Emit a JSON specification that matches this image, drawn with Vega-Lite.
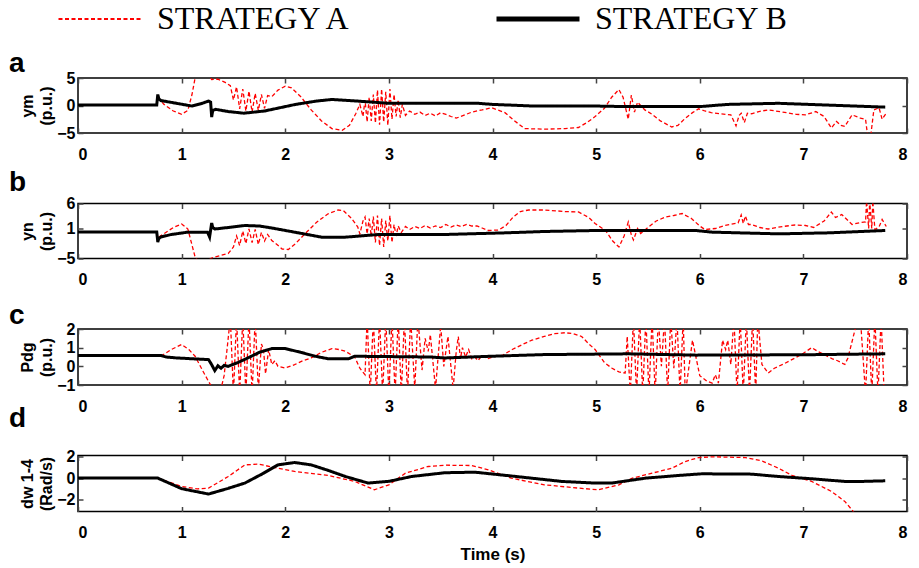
{
"$schema":"https://vega.github.io/schema/vega-lite/v6.json",
"background":"white",
"padding":{"left":8,"top":3,"right":5,"bottom":2},
"config":{
 "view":{"stroke":"black","strokeWidth":1.5},
 "axis":{"domain":false,"grid":false,"labelFont":"Liberation Sans","labelFontWeight":"bold","labelFontSize":16,"labelColor":"black","tickColor":"#444","tickWidth":1.5,"tickSize":-5,"titleFont":"Liberation Sans","titleFontWeight":"bold","titleFontSize":16,"titleColor":"black","titleLineHeight":19},
 "axisX":{"labelPadding":18},
 "axisY":{"labelPadding":8,"titlePadding":2},
 "title":{"font":"Liberation Sans","fontSize":28,"fontWeight":"bold","anchor":"start","frame":"group","dx":-69,"color":"black","offset":0}
},
"datasets":{
"a":[
{"s":"B","t":0,"v":0.1},{"s":"B","t":0.76,"v":0.1},{"s":"B","t":0.77,"v":2.0},{"s":"B","t":0.78,"v":1.2},{"s":"B","t":0.8,"v":0.9},{"s":"B","t":0.95,"v":0.4},{"s":"B","t":1.1,"v":-0.1},{"s":"B","t":1.2,"v":0.4},{"s":"B","t":1.26,"v":0.8},{"s":"B","t":1.28,"v":0.6},{"s":"B","t":1.29,"v":-2.1},{"s":"B","t":1.3,"v":-0.9},{"s":"B","t":1.33,"v":-0.7},{"s":"B","t":1.45,"v":-1.1},{"s":"B","t":1.6,"v":-1.4},{"s":"B","t":1.8,"v":-1.0},{"s":"B","t":2.1,"v":0.2},{"s":"B","t":2.3,"v":0.8},{"s":"B","t":2.45,"v":1.1},{"s":"B","t":2.7,"v":0.8},{"s":"B","t":3.0,"v":0.4},{"s":"B","t":3.86,"v":0.4},{"s":"B","t":4.0,"v":0.2},{"s":"B","t":4.4,"v":-0.1},{"s":"B","t":5.0,"v":-0.1},{"s":"B","t":5.3,"v":-0.2},{"s":"B","t":6.0,"v":-0.2},{"s":"B","t":6.27,"v":0.2},{"s":"B","t":6.76,"v":0.4},{"s":"B","t":7.2,"v":0.1},{"s":"B","t":7.79,"v":-0.3},
{"s":"A","t":0.77,"v":1.5},{"s":"A","t":0.83,"v":0.2},{"s":"A","t":0.92,"v":-1.0},{"s":"A","t":1.0,"v":-1.6},{"s":"A","t":1.06,"v":-0.9},{"s":"A","t":1.1,"v":2.0},{"s":"A","t":1.13,"v":5.0},{"s":"A","t":1.2,"v":7},{"s":"A","t":1.25,"v":6},{"s":"A","t":1.29,"v":4.7},{"s":"A","t":1.35,"v":4.8},{"s":"A","t":1.42,"v":4.2},{"s":"A","t":1.47,"v":3.6},{"s":"A","t":1.5,"v":1.0},{"s":"A","t":1.53,"v":3.4},{"s":"A","t":1.56,"v":-0.6},{"s":"A","t":1.59,"v":3.0},{"s":"A","t":1.62,"v":-1.0},{"s":"A","t":1.65,"v":2.6},{"s":"A","t":1.68,"v":-1.2},{"s":"A","t":1.71,"v":2.2},{"s":"A","t":1.74,"v":-0.9},{"s":"A","t":1.77,"v":2.0},{"s":"A","t":1.8,"v":-0.5},{"s":"A","t":1.83,"v":1.8},{"s":"A","t":1.87,"v":1.6},{"s":"A","t":1.93,"v":2.8},{"s":"A","t":2.0,"v":3.5},{"s":"A","t":2.06,"v":3.2},{"s":"A","t":2.15,"v":1.6},{"s":"A","t":2.25,"v":-0.8},{"s":"A","t":2.35,"v":-2.8},{"s":"A","t":2.45,"v":-4.2},{"s":"A","t":2.55,"v":-4.5},{"s":"A","t":2.62,"v":-3.6},{"s":"A","t":2.68,"v":-1.5},{"s":"A","t":2.72,"v":0.2},{"s":"A","t":2.75,"v":-2.0},{"s":"A","t":2.77,"v":1.0},{"s":"A","t":2.79,"v":-3.0},{"s":"A","t":2.81,"v":1.5},{"s":"A","t":2.83,"v":-2.8},{"s":"A","t":2.85,"v":2.0},{"s":"A","t":2.87,"v":-3.2},{"s":"A","t":2.89,"v":2.8},{"s":"A","t":2.91,"v":-3.5},{"s":"A","t":2.93,"v":3.0},{"s":"A","t":2.95,"v":-3.0},{"s":"A","t":2.97,"v":2.5},{"s":"A","t":2.99,"v":-3.6},{"s":"A","t":3.01,"v":3.0},{"s":"A","t":3.03,"v":-2.5},{"s":"A","t":3.05,"v":2.0},{"s":"A","t":3.07,"v":-2.0},{"s":"A","t":3.09,"v":1.0},{"s":"A","t":3.11,"v":-2.2},{"s":"A","t":3.13,"v":0.2},{"s":"A","t":3.16,"v":-1.8},{"s":"A","t":3.2,"v":-1.0},{"s":"A","t":3.25,"v":-1.6},{"s":"A","t":3.3,"v":-1.2},{"s":"A","t":3.35,"v":-1.8},{"s":"A","t":3.4,"v":-1.4},{"s":"A","t":3.45,"v":-1.9},{"s":"A","t":3.5,"v":-1.3},{"s":"A","t":3.55,"v":-1.6},{"s":"A","t":3.6,"v":-2.0},{"s":"A","t":3.65,"v":-2.3},{"s":"A","t":3.72,"v":-1.8},{"s":"A","t":3.8,"v":-1.2},{"s":"A","t":3.9,"v":-0.8},{"s":"A","t":3.99,"v":-0.4},{"s":"A","t":4.05,"v":-0.8},{"s":"A","t":4.12,"v":-1.3},{"s":"A","t":4.2,"v":-2.6},{"s":"A","t":4.31,"v":-4.2},{"s":"A","t":4.5,"v":-4.3},{"s":"A","t":4.7,"v":-4.2},{"s":"A","t":4.83,"v":-4.0},{"s":"A","t":4.92,"v":-3.0},{"s":"A","t":4.99,"v":-2.0},{"s":"A","t":5.08,"v":-0.5},{"s":"A","t":5.15,"v":1.5},{"s":"A","t":5.22,"v":2.9},{"s":"A","t":5.26,"v":1.5},{"s":"A","t":5.31,"v":-2.5},{"s":"A","t":5.34,"v":1.9},{"s":"A","t":5.37,"v":-1.2},{"s":"A","t":5.4,"v":0.6},{"s":"A","t":5.47,"v":-0.8},{"s":"A","t":5.54,"v":-1.6},{"s":"A","t":5.62,"v":-2.8},{"s":"A","t":5.73,"v":-3.9},{"s":"A","t":5.79,"v":-3.6},{"s":"A","t":5.85,"v":-2.5},{"s":"A","t":5.93,"v":-1.3},{"s":"A","t":5.99,"v":-0.6},{"s":"A","t":6.05,"v":-1.0},{"s":"A","t":6.11,"v":-1.3},{"s":"A","t":6.2,"v":-1.5},{"s":"A","t":6.3,"v":-1.7},{"s":"A","t":6.35,"v":-3.7},{"s":"A","t":6.38,"v":-1.8},{"s":"A","t":6.4,"v":-1.4},{"s":"A","t":6.43,"v":-3.1},{"s":"A","t":6.46,"v":-1.4},{"s":"A","t":6.5,"v":-1.5},{"s":"A","t":6.57,"v":-1.1},{"s":"A","t":6.66,"v":-0.8},{"s":"A","t":6.8,"v":-1.2},{"s":"A","t":6.93,"v":-1.6},{"s":"A","t":7.02,"v":-1.7},{"s":"A","t":7.12,"v":-1.1},{"s":"A","t":7.2,"v":-2.0},{"s":"A","t":7.27,"v":-4.1},{"s":"A","t":7.32,"v":-2.9},{"s":"A","t":7.36,"v":-3.6},{"s":"A","t":7.4,"v":-3.8},{"s":"A","t":7.47,"v":-1.7},{"s":"A","t":7.55,"v":-2.3},{"s":"A","t":7.6,"v":-2.5},{"s":"A","t":7.62,"v":-5.5},{"s":"A","t":7.65,"v":-5.5},{"s":"A","t":7.68,"v":-0.8},{"s":"A","t":7.73,"v":-0.4},{"s":"A","t":7.76,"v":-2.5},{"s":"A","t":7.8,"v":-1.4}
],
"b":[
{"s":"B","t":0,"v":0.3},{"s":"B","t":0.76,"v":0.3},{"s":"B","t":0.77,"v":-1.7},{"s":"B","t":0.78,"v":-1.0},{"s":"B","t":0.8,"v":-0.7},{"s":"B","t":0.9,"v":-0.2},{"s":"B","t":1.06,"v":0.27},{"s":"B","t":1.25,"v":0.27},{"s":"B","t":1.27,"v":-0.7},{"s":"B","t":1.29,"v":2.1},{"s":"B","t":1.3,"v":1.2},{"s":"B","t":1.32,"v":0.9},{"s":"B","t":1.45,"v":1.2},{"s":"B","t":1.61,"v":1.6},{"s":"B","t":1.75,"v":1.5},{"s":"B","t":1.87,"v":1.1},{"s":"B","t":2.09,"v":0.27},{"s":"B","t":2.35,"v":-0.73},{"s":"B","t":2.58,"v":-0.73},{"s":"B","t":2.9,"v":-0.2},{"s":"B","t":3.54,"v":-0.2},{"s":"B","t":4.12,"v":0.13},{"s":"B","t":4.5,"v":0.4},{"s":"B","t":4.99,"v":0.6},{"s":"B","t":5.96,"v":0.6},{"s":"B","t":6.12,"v":0.27},{"s":"B","t":6.76,"v":-0.07},{"s":"B","t":7.24,"v":0.13},{"s":"B","t":7.79,"v":0.6},
{"s":"A","t":0.78,"v":-0.7},{"s":"A","t":0.84,"v":0.1},{"s":"A","t":0.92,"v":1.2},{"s":"A","t":1.0,"v":1.9},{"s":"A","t":1.06,"v":0.9},{"s":"A","t":1.13,"v":-4.7},{"s":"A","t":1.2,"v":-6.5},{"s":"A","t":1.28,"v":-5.0},{"s":"A","t":1.32,"v":-4.7},{"s":"A","t":1.45,"v":-4.0},{"s":"A","t":1.5,"v":-2.7},{"s":"A","t":1.53,"v":-0.5},{"s":"A","t":1.56,"v":-2.4},{"s":"A","t":1.59,"v":0.5},{"s":"A","t":1.62,"v":-2.0},{"s":"A","t":1.65,"v":0.9},{"s":"A","t":1.68,"v":-1.8},{"s":"A","t":1.71,"v":0.8},{"s":"A","t":1.74,"v":-2.2},{"s":"A","t":1.77,"v":0.2},{"s":"A","t":1.8,"v":-1.5},{"s":"A","t":1.83,"v":-0.2},{"s":"A","t":1.87,"v":-1.4},{"s":"A","t":1.92,"v":-2.2},{"s":"A","t":1.97,"v":-3.1},{"s":"A","t":2.03,"v":-3.2},{"s":"A","t":2.1,"v":-2.0},{"s":"A","t":2.19,"v":-0.07},{"s":"A","t":2.3,"v":2.2},{"s":"A","t":2.41,"v":3.9},{"s":"A","t":2.51,"v":4.7},{"s":"A","t":2.56,"v":4.6},{"s":"A","t":2.64,"v":3.0},{"s":"A","t":2.7,"v":1.3},{"s":"A","t":2.72,"v":-0.07},{"s":"A","t":2.75,"v":2.5},{"s":"A","t":2.77,"v":3.3},{"s":"A","t":2.79,"v":-0.1},{"s":"A","t":2.81,"v":3.0},{"s":"A","t":2.83,"v":-0.6},{"s":"A","t":2.85,"v":3.4},{"s":"A","t":2.87,"v":-1.8},{"s":"A","t":2.89,"v":3.6},{"s":"A","t":2.91,"v":-2.4},{"s":"A","t":2.93,"v":3.0},{"s":"A","t":2.95,"v":-2.7},{"s":"A","t":2.97,"v":2.6},{"s":"A","t":2.99,"v":-1.5},{"s":"A","t":3.01,"v":3.6},{"s":"A","t":3.03,"v":-1.8},{"s":"A","t":3.05,"v":1.8},{"s":"A","t":3.07,"v":-0.5},{"s":"A","t":3.09,"v":1.5},{"s":"A","t":3.12,"v":0.2},{"s":"A","t":3.16,"v":1.4},{"s":"A","t":3.2,"v":0.8},{"s":"A","t":3.25,"v":1.4},{"s":"A","t":3.3,"v":1.0},{"s":"A","t":3.35,"v":1.6},{"s":"A","t":3.4,"v":1.1},{"s":"A","t":3.45,"v":1.5},{"s":"A","t":3.5,"v":1.2},{"s":"A","t":3.55,"v":1.8},{"s":"A","t":3.6,"v":1.3},{"s":"A","t":3.65,"v":1.7},{"s":"A","t":3.7,"v":1.4},{"s":"A","t":3.75,"v":1.8},{"s":"A","t":3.8,"v":1.5},{"s":"A","t":3.85,"v":1.5},{"s":"A","t":3.9,"v":1.1},{"s":"A","t":3.96,"v":0.6},{"s":"A","t":4.06,"v":0.7},{"s":"A","t":4.13,"v":1.6},{"s":"A","t":4.2,"v":3.3},{"s":"A","t":4.27,"v":4.4},{"s":"A","t":4.35,"v":4.7},{"s":"A","t":4.5,"v":4.7},{"s":"A","t":4.7,"v":4.4},{"s":"A","t":4.83,"v":4.3},{"s":"A","t":4.93,"v":3.2},{"s":"A","t":4.99,"v":2.0},{"s":"A","t":5.09,"v":0.6},{"s":"A","t":5.16,"v":-1.5},{"s":"A","t":5.22,"v":-2.7},{"s":"A","t":5.27,"v":-0.5},{"s":"A","t":5.31,"v":2.3},{"s":"A","t":5.34,"v":-0.3},{"s":"A","t":5.36,"v":-1.3},{"s":"A","t":5.4,"v":1.0},{"s":"A","t":5.43,"v":0.0},{"s":"A","t":5.5,"v":1.2},{"s":"A","t":5.58,"v":2.5},{"s":"A","t":5.67,"v":3.3},{"s":"A","t":5.75,"v":3.6},{"s":"A","t":5.83,"v":4.0},{"s":"A","t":5.92,"v":3.0},{"s":"A","t":6.0,"v":1.5},{"s":"A","t":6.05,"v":0.8},{"s":"A","t":6.15,"v":1.0},{"s":"A","t":6.24,"v":1.6},{"s":"A","t":6.37,"v":2.1},{"s":"A","t":6.4,"v":3.7},{"s":"A","t":6.42,"v":2.0},{"s":"A","t":6.44,"v":3.5},{"s":"A","t":6.47,"v":1.8},{"s":"A","t":6.5,"v":1.8},{"s":"A","t":6.58,"v":1.2},{"s":"A","t":6.66,"v":0.9},{"s":"A","t":6.8,"v":1.4},{"s":"A","t":6.92,"v":1.7},{"s":"A","t":7.02,"v":1.6},{"s":"A","t":7.1,"v":1.2},{"s":"A","t":7.2,"v":2.5},{"s":"A","t":7.27,"v":4.3},{"s":"A","t":7.31,"v":3.2},{"s":"A","t":7.37,"v":3.8},{"s":"A","t":7.47,"v":1.8},{"s":"A","t":7.55,"v":2.2},{"s":"A","t":7.6,"v":2.3},{"s":"A","t":7.61,"v":6.5},{"s":"A","t":7.63,"v":1.0},{"s":"A","t":7.64,"v":6.5},{"s":"A","t":7.66,"v":1.0},{"s":"A","t":7.67,"v":6.5},{"s":"A","t":7.69,"v":0.8},{"s":"A","t":7.73,"v":1.3},{"s":"A","t":7.76,"v":2.8},{"s":"A","t":7.8,"v":1.4}
],
"c":[
{"s":"B","t":0,"v":0.58},{"s":"B","t":0.8,"v":0.58},{"s":"B","t":0.85,"v":0.5},{"s":"B","t":0.95,"v":0.45},{"s":"B","t":1.26,"v":0.36},{"s":"B","t":1.29,"v":0.09},{"s":"B","t":1.32,"v":-0.23},{"s":"B","t":1.35,"v":0.03},{"s":"B","t":1.38,"v":-0.1},{"s":"B","t":1.41,"v":0.05},{"s":"B","t":1.45,"v":0.0},{"s":"B","t":1.55,"v":0.22},{"s":"B","t":1.64,"v":0.45},{"s":"B","t":1.75,"v":0.75},{"s":"B","t":1.87,"v":0.95},{"s":"B","t":2.0,"v":0.95},{"s":"B","t":2.15,"v":0.75},{"s":"B","t":2.29,"v":0.54},{"s":"B","t":2.42,"v":0.4},{"s":"B","t":2.61,"v":0.4},{"s":"B","t":2.67,"v":0.54},{"s":"B","t":3.4,"v":0.5},{"s":"B","t":3.54,"v":0.45},{"s":"B","t":3.99,"v":0.54},{"s":"B","t":4.5,"v":0.63},{"s":"B","t":5.31,"v":0.67},{"s":"B","t":5.96,"v":0.6},{"s":"B","t":7.0,"v":0.62},{"s":"B","t":7.79,"v":0.67},
{"s":"A","t":0.8,"v":0.54},{"s":"A","t":0.9,"v":0.9},{"s":"A","t":1.0,"v":1.17},{"s":"A","t":1.07,"v":0.9},{"s":"A","t":1.13,"v":0.54},{"s":"A","t":1.2,"v":-0.2},{"s":"A","t":1.26,"v":-0.81},{"s":"A","t":1.3,"v":-1.2},{"s":"A","t":1.38,"v":-1.2},{"s":"A","t":1.41,"v":-0.5},{"s":"A","t":1.44,"v":1.0},{"s":"A","t":1.47,"v":2.6},{"s":"A","t":1.5,"v":-1.5},{"s":"A","t":1.53,"v":2.6},{"s":"A","t":1.56,"v":-1.5},{"s":"A","t":1.59,"v":2.6},{"s":"A","t":1.62,"v":-1.5},{"s":"A","t":1.65,"v":2.6},{"s":"A","t":1.68,"v":-1.5},{"s":"A","t":1.71,"v":2.6},{"s":"A","t":1.74,"v":-1.3},{"s":"A","t":1.77,"v":1.2},{"s":"A","t":1.79,"v":0.9},{"s":"A","t":1.81,"v":-0.4},{"s":"A","t":1.84,"v":0.9},{"s":"A","t":1.87,"v":0.1},{"s":"A","t":1.9,"v":0.3},{"s":"A","t":1.93,"v":0.0},{"s":"A","t":2.0,"v":-0.09},{"s":"A","t":2.09,"v":0.09},{"s":"A","t":2.17,"v":0.3},{"s":"A","t":2.25,"v":0.45},{"s":"A","t":2.35,"v":0.75},{"s":"A","t":2.45,"v":0.95},{"s":"A","t":2.52,"v":0.9},{"s":"A","t":2.58,"v":0.81},{"s":"A","t":2.67,"v":0.5},{"s":"A","t":2.72,"v":-0.1},{"s":"A","t":2.77,"v":-0.45},{"s":"A","t":2.79,"v":2.6},{"s":"A","t":2.82,"v":-1.5},{"s":"A","t":2.85,"v":2.6},{"s":"A","t":2.88,"v":-1.5},{"s":"A","t":2.91,"v":2.6},{"s":"A","t":2.94,"v":-1.5},{"s":"A","t":2.97,"v":2.6},{"s":"A","t":3.0,"v":-1.5},{"s":"A","t":3.03,"v":2.6},{"s":"A","t":3.06,"v":-1.5},{"s":"A","t":3.09,"v":2.6},{"s":"A","t":3.12,"v":-1.5},{"s":"A","t":3.15,"v":2.6},{"s":"A","t":3.18,"v":-1.5},{"s":"A","t":3.21,"v":2.6},{"s":"A","t":3.25,"v":-1.2},{"s":"A","t":3.28,"v":2.6},{"s":"A","t":3.3,"v":1.2},{"s":"A","t":3.32,"v":-0.2},{"s":"A","t":3.35,"v":1.5},{"s":"A","t":3.38,"v":0.8},{"s":"A","t":3.4,"v":1.7},{"s":"A","t":3.45,"v":-1.2},{"s":"A","t":3.5,"v":2.2},{"s":"A","t":3.53,"v":0.0},{"s":"A","t":3.57,"v":1.6},{"s":"A","t":3.62,"v":-1.2},{"s":"A","t":3.65,"v":0.8},{"s":"A","t":3.67,"v":1.6},{"s":"A","t":3.69,"v":0.4},{"s":"A","t":3.71,"v":1.0},{"s":"A","t":3.74,"v":0.5},{"s":"A","t":3.77,"v":0.9},{"s":"A","t":3.8,"v":0.4},{"s":"A","t":3.83,"v":0.5},{"s":"A","t":3.86,"v":0.3},{"s":"A","t":3.9,"v":0.6},{"s":"A","t":3.95,"v":0.4},{"s":"A","t":4.0,"v":0.5},{"s":"A","t":4.1,"v":0.6},{"s":"A","t":4.19,"v":0.9},{"s":"A","t":4.3,"v":1.2},{"s":"A","t":4.38,"v":1.4},{"s":"A","t":4.5,"v":1.6},{"s":"A","t":4.6,"v":1.75},{"s":"A","t":4.7,"v":1.8},{"s":"A","t":4.78,"v":1.75},{"s":"A","t":4.86,"v":1.6},{"s":"A","t":4.93,"v":1.2},{"s":"A","t":4.99,"v":0.9},{"s":"A","t":5.08,"v":0.2},{"s":"A","t":5.15,"v":-0.09},{"s":"A","t":5.22,"v":-0.3},{"s":"A","t":5.28,"v":-0.36},{"s":"A","t":5.3,"v":1.6},{"s":"A","t":5.33,"v":-1.5},{"s":"A","t":5.36,"v":2.6},{"s":"A","t":5.39,"v":-1.5},{"s":"A","t":5.42,"v":2.6},{"s":"A","t":5.45,"v":-1.5},{"s":"A","t":5.48,"v":2.6},{"s":"A","t":5.51,"v":-1.5},{"s":"A","t":5.54,"v":2.6},{"s":"A","t":5.57,"v":-1.5},{"s":"A","t":5.6,"v":2.6},{"s":"A","t":5.63,"v":0.0},{"s":"A","t":5.66,"v":2.6},{"s":"A","t":5.69,"v":-1.5},{"s":"A","t":5.72,"v":2.6},{"s":"A","t":5.75,"v":-0.1},{"s":"A","t":5.78,"v":2.6},{"s":"A","t":5.81,"v":-1.5},{"s":"A","t":5.84,"v":2.6},{"s":"A","t":5.86,"v":-1.5},{"s":"A","t":5.93,"v":1.4},{"s":"A","t":6.0,"v":-0.5},{"s":"A","t":6.07,"v":-0.8},{"s":"A","t":6.12,"v":-0.9},{"s":"A","t":6.15,"v":-0.45},{"s":"A","t":6.18,"v":-0.9},{"s":"A","t":6.22,"v":1.4},{"s":"A","t":6.25,"v":0.9},{"s":"A","t":6.27,"v":1.4},{"s":"A","t":6.3,"v":0.1},{"s":"A","t":6.33,"v":2.6},{"s":"A","t":6.36,"v":-1.5},{"s":"A","t":6.39,"v":2.6},{"s":"A","t":6.42,"v":-1.5},{"s":"A","t":6.45,"v":2.6},{"s":"A","t":6.48,"v":-1.5},{"s":"A","t":6.51,"v":2.6},{"s":"A","t":6.54,"v":-1.5},{"s":"A","t":6.56,"v":2.6},{"s":"A","t":6.6,"v":0.1},{"s":"A","t":6.66,"v":-0.36},{"s":"A","t":6.72,"v":-0.1},{"s":"A","t":6.8,"v":0.1},{"s":"A","t":6.92,"v":0.45},{"s":"A","t":7.0,"v":0.7},{"s":"A","t":7.08,"v":1.0},{"s":"A","t":7.14,"v":0.8},{"s":"A","t":7.2,"v":0.63},{"s":"A","t":7.28,"v":0.4},{"s":"A","t":7.33,"v":0.3},{"s":"A","t":7.4,"v":0.1},{"s":"A","t":7.43,"v":0.45},{"s":"A","t":7.5,"v":2.0},{"s":"A","t":7.55,"v":2.6},{"s":"A","t":7.6,"v":-1.5},{"s":"A","t":7.63,"v":2.6},{"s":"A","t":7.66,"v":-1.5},{"s":"A","t":7.69,"v":2.6},{"s":"A","t":7.72,"v":-1.5},{"s":"A","t":7.75,"v":2.6},{"s":"A","t":7.78,"v":-1.5}
],
"d":[
{"s":"B","t":0,"v":0},{"s":"B","t":0.77,"v":0},{"s":"B","t":1.0,"v":-0.98},{"s":"B","t":1.26,"v":-1.48},{"s":"B","t":1.45,"v":-0.95},{"s":"B","t":1.61,"v":-0.46},{"s":"B","t":1.78,"v":0.4},{"s":"B","t":1.93,"v":1.23},{"s":"B","t":2.09,"v":1.45},{"s":"B","t":2.25,"v":1.23},{"s":"B","t":2.42,"v":0.7},{"s":"B","t":2.58,"v":0.15},{"s":"B","t":2.8,"v":-0.46},{"s":"B","t":3.0,"v":-0.3},{"s":"B","t":3.22,"v":0.15},{"s":"B","t":3.54,"v":0.5},{"s":"B","t":3.83,"v":0.55},{"s":"B","t":4.18,"v":0.2},{"s":"B","t":4.67,"v":-0.31},{"s":"B","t":4.99,"v":-0.46},{"s":"B","t":5.15,"v":-0.46},{"s":"B","t":5.48,"v":0},{"s":"B","t":5.8,"v":0.25},{"s":"B","t":6.02,"v":0.4},{"s":"B","t":6.5,"v":0.37},{"s":"B","t":6.76,"v":0.15},{"s":"B","t":7.08,"v":-0.06},{"s":"B","t":7.4,"v":-0.31},{"s":"B","t":7.56,"v":-0.31},{"s":"B","t":7.79,"v":-0.25},
{"s":"A","t":0.77,"v":0},{"s":"A","t":1.0,"v":-0.77},{"s":"A","t":1.15,"v":-1.0},{"s":"A","t":1.26,"v":-0.93},{"s":"A","t":1.45,"v":0.15},{"s":"A","t":1.61,"v":1.23},{"s":"A","t":1.74,"v":1.3},{"s":"A","t":1.93,"v":0.92},{"s":"A","t":2.09,"v":0.62},{"s":"A","t":2.41,"v":0.25},{"s":"A","t":2.67,"v":-0.3},{"s":"A","t":2.86,"v":-1.08},{"s":"A","t":3.0,"v":-0.62},{"s":"A","t":3.16,"v":0.46},{"s":"A","t":3.38,"v":1.08},{"s":"A","t":3.54,"v":1.2},{"s":"A","t":3.8,"v":1.17},{"s":"A","t":3.96,"v":0.77},{"s":"A","t":4.18,"v":0},{"s":"A","t":4.5,"v":-0.62},{"s":"A","t":4.83,"v":-0.93},{"s":"A","t":5.02,"v":-1.08},{"s":"A","t":5.22,"v":-0.62},{"s":"A","t":5.35,"v":0},{"s":"A","t":5.54,"v":0.46},{"s":"A","t":5.73,"v":0.92},{"s":"A","t":5.86,"v":1.54},{"s":"A","t":5.99,"v":1.91},{"s":"A","t":6.12,"v":1.98},{"s":"A","t":6.44,"v":1.91},{"s":"A","t":6.6,"v":1.6},{"s":"A","t":6.76,"v":0.92},{"s":"A","t":6.89,"v":0.25},{"s":"A","t":7.08,"v":-0.31},{"s":"A","t":7.27,"v":-1.23},{"s":"A","t":7.4,"v":-2.16},{"s":"A","t":7.48,"v":-3.08},{"s":"A","t":7.52,"v":-3.6}
]
},
"spacing":70.5,
"bounds":"flush",
"resolve":{"scale":{"color":"shared","strokeDash":"shared"},"legend":{"color":"shared","strokeDash":"shared"}},
"vconcat":[
{"width":829,"height":55,"title":{"text":"a","dy":12},"data":{"name":"a"},
 "layer":[
  {"transform":[{"filter":"datum.s=='A'"}],"mark":{"type":"line","strokeWidth":1.3,"clip":true},
   "encoding":{"x":{"field":"t","type":"quantitative","scale":{"domain":[0,8],"nice":false},"axis":{"orient":"bottom","values":[0,1,2,3,4,5,6,7,8],"title":null}},
    "y":{"field":"v","type":"quantitative","scale":{"domain":[-5,5],"nice":false},"axis":{"values":[-5,0,5],"title":["ym","(p.u.)"]}},
    "color":{"field":"s","type":"nominal","scale":{"domain":["A","B"],"range":["#ff0000","#000000"]},
      "legend":{"orient":"none","legendX":6,"legendY":-75,"direction":"horizontal","title":null,"symbolType":"stroke","symbolSize":6889,"labelFont":"Liberation Serif","labelFontSize":32,"labelColor":"black","labelOffset":41,"labelLimit":0,"columnPadding":134,"labelExpr":"datum.label=='A'?'STRATEGY A':'STRATEGY B'","encode":{"symbols":{"update":{"strokeWidth":{"signal":"datum.value=='B'?5:2"},"strokeDash":{"signal":"datum.value=='A'?[10,6]:[1,0]"}}}}}},
    "strokeDash":{"field":"s","type":"nominal","scale":{"domain":["A","B"],"range":[[4,2.5],[1,0]]}}}},
  {"transform":[{"filter":"datum.s=='B'"}],"mark":{"type":"line","strokeWidth":3,"clip":true},
   "encoding":{"x":{"field":"t","type":"quantitative","axis":{"orient":"top","values":[0,1,2,3,4,5,6,7,8],"labels":false,"title":null}},
    "y":{"field":"v","type":"quantitative","axis":{"orient":"right","values":[-5,0,5],"labels":false,"title":null}},
    "color":{"field":"s","type":"nominal"},
    "strokeDash":{"field":"s","type":"nominal"}}}
 ],
 "resolve":{"axis":{"x":"independent","y":"independent"}}},
{"width":829,"height":55,"title":{"text":"b","dy":5},"data":{"name":"b"},
 "layer":[
  {"transform":[{"filter":"datum.s=='A'"}],"mark":{"type":"line","strokeWidth":1.3,"clip":true},
   "encoding":{"x":{"field":"t","type":"quantitative","scale":{"domain":[0,8],"nice":false},"axis":{"orient":"bottom","values":[0,1,2,3,4,5,6,7,8],"title":null}},
    "y":{"field":"v","type":"quantitative","scale":{"domain":[-5,6],"nice":false},"axis":{"values":[-5,1,6],"title":["yn","(p.u.)"]}},
    "color":{"field":"s","type":"nominal"},
    "strokeDash":{"field":"s","type":"nominal"}}},
  {"transform":[{"filter":"datum.s=='B'"}],"mark":{"type":"line","strokeWidth":3,"clip":true},
   "encoding":{"x":{"field":"t","type":"quantitative","axis":{"orient":"top","values":[0,1,2,3,4,5,6,7,8],"labels":false,"title":null}},
    "y":{"field":"v","type":"quantitative","axis":{"orient":"right","values":[-5,1,6],"labels":false,"title":null}},
    "color":{"field":"s","type":"nominal"},
    "strokeDash":{"field":"s","type":"nominal"}}}
 ],
 "resolve":{"axis":{"x":"independent","y":"independent"}}},
{"width":829,"height":56,"title":{"text":"c","dy":13},"data":{"name":"c"},
 "layer":[
  {"transform":[{"filter":"datum.s=='A'"}],"mark":{"type":"line","strokeWidth":1.3,"clip":true},
   "encoding":{"x":{"field":"t","type":"quantitative","scale":{"domain":[0,8],"nice":false},"axis":{"orient":"bottom","values":[0,1,2,3,4,5,6,7,8],"title":null}},
    "y":{"field":"v","type":"quantitative","scale":{"domain":[-1,2],"nice":false},"axis":{"values":[-1,0,1,2],"title":["Pdg","(p.u.)"]}},
    "color":{"field":"s","type":"nominal"},
    "strokeDash":{"field":"s","type":"nominal"}}},
  {"transform":[{"filter":"datum.s=='B'"}],"mark":{"type":"line","strokeWidth":3,"clip":true},
   "encoding":{"x":{"field":"t","type":"quantitative","axis":{"orient":"top","values":[0,1,2,3,4,5,6,7,8],"labels":false,"title":null}},
    "y":{"field":"v","type":"quantitative","axis":{"orient":"right","values":[-1,0,1,2],"labels":false,"title":null}},
    "color":{"field":"s","type":"nominal"},
    "strokeDash":{"field":"s","type":"nominal"}}}
 ],
 "resolve":{"axis":{"x":"independent","y":"independent"}}},
{"width":829,"height":56,"title":{"text":"d","dy":-12},"data":{"name":"d"},
 "layer":[
  {"transform":[{"filter":"datum.s=='A'"}],"mark":{"type":"line","strokeWidth":1.3,"clip":true},
   "encoding":{"x":{"field":"t","type":"quantitative","scale":{"domain":[0,8],"nice":false},"axis":{"orient":"bottom","values":[0,1,2,3,4,5,6,7,8],"title":"Time (s)","titleFontSize":17,"titlePadding":6}},
    "y":{"field":"v","type":"quantitative","scale":{"domain":[-3.1,2.1],"nice":false},"axis":{"values":[-2,0,2],"title":["dw 1-4","(Rad/s)"]}},
    "color":{"field":"s","type":"nominal"},
    "strokeDash":{"field":"s","type":"nominal"}}},
  {"transform":[{"filter":"datum.s=='B'"}],"mark":{"type":"line","strokeWidth":3,"clip":true},
   "encoding":{"x":{"field":"t","type":"quantitative","axis":{"orient":"top","values":[0,1,2,3,4,5,6,7,8],"labels":false,"title":null}},
    "y":{"field":"v","type":"quantitative","axis":{"orient":"right","values":[-2,0,2],"labels":false,"title":null}},
    "color":{"field":"s","type":"nominal"},
    "strokeDash":{"field":"s","type":"nominal"}}}
 ],
 "resolve":{"axis":{"x":"independent","y":"independent"}}}
]
}
